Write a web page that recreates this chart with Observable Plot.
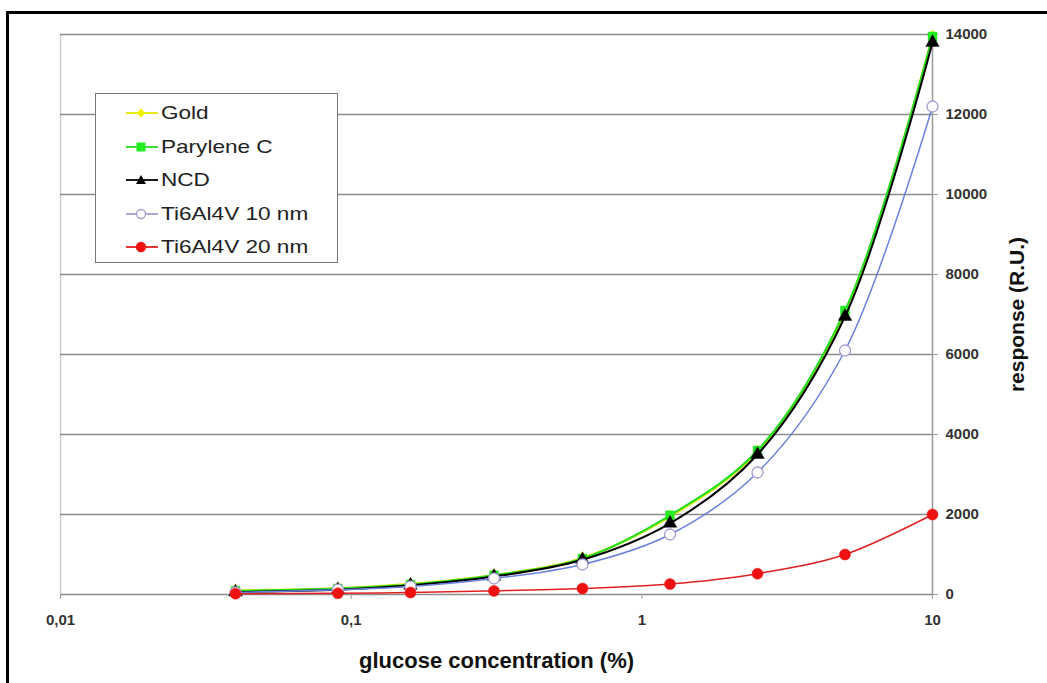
<!DOCTYPE html>
<html><head><meta charset="utf-8">
<script src="https://cdn.jsdelivr.net/npm/d3@7"></script>
<script src="https://cdn.jsdelivr.net/npm/@observablehq/plot@0.6"></script>
<style>
body{margin:0;background:#fff;font-family:"Liberation Sans",Arial,sans-serif;}
#wrap{position:relative;width:1047px;height:683px;overflow:hidden;background:#fff;}
#border{position:absolute;left:6px;top:11px;width:1200px;height:900px;border-left:3px solid #000;border-top:3px solid #000;pointer-events:none;}
#legend{position:absolute;left:95px;top:93px;width:241px;height:168px;border:1.5px solid #777;background:#fff;}
.row{position:absolute;left:28px;height:24px;display:flex;align-items:center;}
.row svg{width:36px;height:20px;flex:none;}
.row span{font-size:18.5px;color:#222;transform:scaleX(1.22);transform-origin:left center;white-space:nowrap;margin-left:1px;}
</style>
</head><body>
<div id="wrap"><div id="chart"></div><div id="legend"></div><div id="border"></div></div>
<script>
// ---- data ----
const conc = [0.04, 0.09, 0.16, 0.31, 0.625, 1.25, 2.5, 5, 10];
const gold = [100, 150, 260, 480, 910, 1950, 3580, 7050, 13950];
const paryleneC = [90, 150, 250, 480, 900, 1980, 3600, 7100, 13950];
const ncd = [60, 120, 230, 450, 870, 1780, 3500, 6950, 13800];
const ti10 = [50, 120, 200, 400, 750, 1500, 3050, 6100, 12200];
const ti20 = [20, 30, 50, 90, 150, 260, 520, 1000, 2000];
const seriesNames = ["Gold", "Parylene C", "NCD", "Ti6Al4V 10 nm", "Ti6Al4V 20 nm"];
const xTicks = [0.01, 0.1, 1, 10];
const yTicks = [0, 2000, 4000, 6000, 8000, 10000, 12000, 14000];
const xTitle = "glucose concentration (%)";
const yTitle = "response (R.U.)";

const seriesValues = [gold, paryleneC, ncd, ti10, ti20];
const styles = [
  {line:"#e6e600", lw:2.5, symbol:"diamond", r:4, fill:"#f0f000", stroke:"#e6e600"},
  {line:"#22dd22", lw:2, symbol:"square", r:5, fill:"#22ee22", stroke:"#22dd22"},
  {line:"#000000", lw:2, symbol:"triangle", r:5, fill:"#000", stroke:"#000"},
  {line:"#6a80dc", lw:1.5, symbol:"circle", r:5.5, fill:"#fff", stroke:"#a49ccf"},
  {line:"#e02020", lw:1.5, symbol:"circle", r:5.5, fill:"#ee1111", stroke:"#ee1111"}
];

const marks = [
  Plot.ruleX([0.01], {stroke:"#cfcfcf", strokeWidth:1.5}),
  Plot.ruleY(yTicks.filter(d => d > 0), {stroke:"#8c8c8c", strokeWidth:1.5}),
  Plot.ruleY([0], {stroke:"#8c8c8c", strokeWidth:1.5}),
  Plot.ruleX([10], {stroke:"#9a9a9a", strokeWidth:1.5}),
  Plot.axisY({ticks: yTicks, anchor:"right", tickSize:5, tickPadding:8, tickFormat: d => String(d), label:null, color:"#333", fontSize:15, fontWeight:"bold", stroke:"#999"}),
  Plot.axisX({ticks: xTicks, anchor:"bottom", tickSize:5, tickPadding:15, tickFormat: d => String(d).replace(".", ","), label:null, color:"#333", fontSize:15, fontWeight:"bold", stroke:"#999"})
];
seriesNames.forEach((name, i) => {
  const data = conc.map((c, j) => ({c, v: seriesValues[i][j], name}));
  const s = styles[i];
  marks.push(Plot.line(data, {x:"c", y:"v", stroke:s.line, strokeWidth:s.lw, curve:"catmull-rom"}));
  marks.push(Plot.dot(data, {x:"c", y:"v", symbol:s.symbol, r:s.r, fill:s.fill, stroke:s.stroke, strokeWidth: i === 3 ? 1.3 : 0.5}));
});
marks.push(Plot.text([xTitle], {frameAnchor:"bottom", dy:66, textAnchor:"middle", lineAnchor:"middle", fontSize:22, fontWeight:"bold", fill:"#111"}));
marks.push(Plot.text([yTitle], {frameAnchor:"right", dx:85, textAnchor:"middle", lineAnchor:"middle", rotate:-90, fontSize:21, fontWeight:"bold", fill:"#111"}));

const chart = Plot.plot({
  width:1047, height:683,
  marginLeft:60, marginRight:115, marginTop:34, marginBottom:89,
  style:{fontFamily:"Liberation Sans, Arial, sans-serif", background:"transparent"},
  x:{type:"log", domain:[0.01, 10]},
  y:{domain:[0, 14000]},
  marks
});
document.getElementById("chart").appendChild(chart);

// legend
const leg = document.getElementById("legend");
const symPath = {
  diamond: "M0,-4.5L4.5,0L0,4.5L-4.5,0Z",
  square: "M-4.5,-4.5H4.5V4.5H-4.5Z",
  triangle: "M0,-5L5,4L-5,4Z"
};
seriesNames.forEach((name, i) => {
  const s = styles[i];
  const row = document.createElement("div");
  row.className = "row";
  row.style.top = (7 + i * 33.5) + "px";
  const lineCol = i === 3 ? "#a49ccf" : s.line;
  let marker = s.symbol === "circle"
    ? `<circle cx="17" cy="10" r="4.5" fill="${s.fill}" stroke="${s.stroke}" stroke-width="1.3"/>`
    : `<path transform="translate(17,10)" d="${symPath[s.symbol]}" fill="${s.fill}"/>`;
  row.innerHTML = `<svg viewBox="0 0 36 20"><line x1="2" x2="34" y1="10" y2="10" stroke="${lineCol}" stroke-width="1.8"/>${marker}</svg><span>${name}</span>`;
  leg.appendChild(row);
});
</script>
</body></html>
